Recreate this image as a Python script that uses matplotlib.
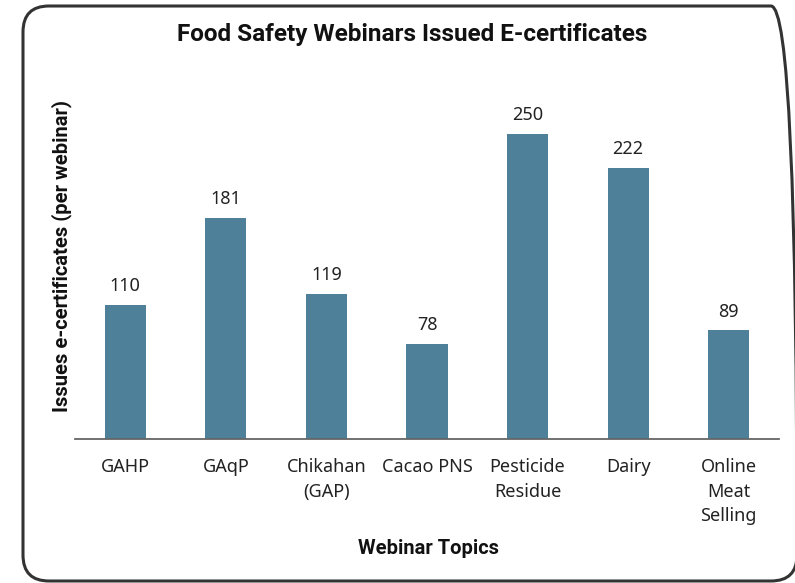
import matplotlib
matplotlib.use("Agg")
import matplotlib.pyplot as plt
from matplotlib.patches import FancyBboxPatch

categories = ["GAHP", "GAqP", "Chikahan\n(GAP)", "Cacao PNS", "Pesticide\nResidue", "Dairy", "Online\nMeat\nSelling"]
values = [110, 181, 119, 78, 250, 222, 89]

plt.rcParams['font.family'] = ['Noto Sans', 'DejaVu Sans']
BOLD = ['Roboto', 'DejaVu Sans']

fig = plt.figure(figsize=(7.95, 5.83), dpi=100)
W, H = 795, 583

# rounded frame (inches)
frame = FancyBboxPatch((0.23, 0.02), 7.74, 5.75,
                       boxstyle="round,pad=0,rounding_size=0.26",
                       transform=fig.dpi_scale_trans, fill=False,
                       edgecolor="#333333", linewidth=2.2, clip_on=False)
fig.patches.append(frame)

ax = fig.add_axes([75 / W, 1 - 439 / H, (779 - 75) / W, (439 - 80) / H])
x = range(len(categories))
bars = ax.bar(x, values, width=0.41, color="#4e8199")
ax.set_xlim(-0.5, len(categories) - 0.5)
ax.set_ylim(0, 294)
for xi, v in zip(x, values):
    ax.annotate(str(v), (xi, v), xytext=(0, 7), textcoords="offset points",
                ha="center", va="bottom", fontsize=13, color="#222222")

for s in ["top", "right", "left"]:
    ax.spines[s].set_visible(False)
ax.spines["bottom"].set_color("#666666")
ax.spines["bottom"].set_linewidth(1.3)
ax.set_yticks([])
ax.set_xticks(list(x))
ax.set_xticklabels(categories, fontsize=13, color="#222222", linespacing=1.45)
ax.tick_params(axis="x", length=0, pad=14)

fig.text(412 / W, 1 - 35 / H, "Food Safety Webinars Issued E-certificates",
         ha="center", va="center", fontsize=17.5, fontweight="bold",
         family=BOLD, color="#111111")
fig.text(428 / W, 1 - 548 / H, "Webinar Topics", ha="center", va="center",
         fontsize=14.5, fontweight="bold", family=BOLD, color="#111111")
fig.text(62 / W, 1 - 256 / H, "Issues e-certificates (per webinar)", ha="center",
         va="center", rotation=90, fontsize=14.5, fontweight="bold",
         family=BOLD, color="#111111")

fig.savefig("out.png", dpi=100)
